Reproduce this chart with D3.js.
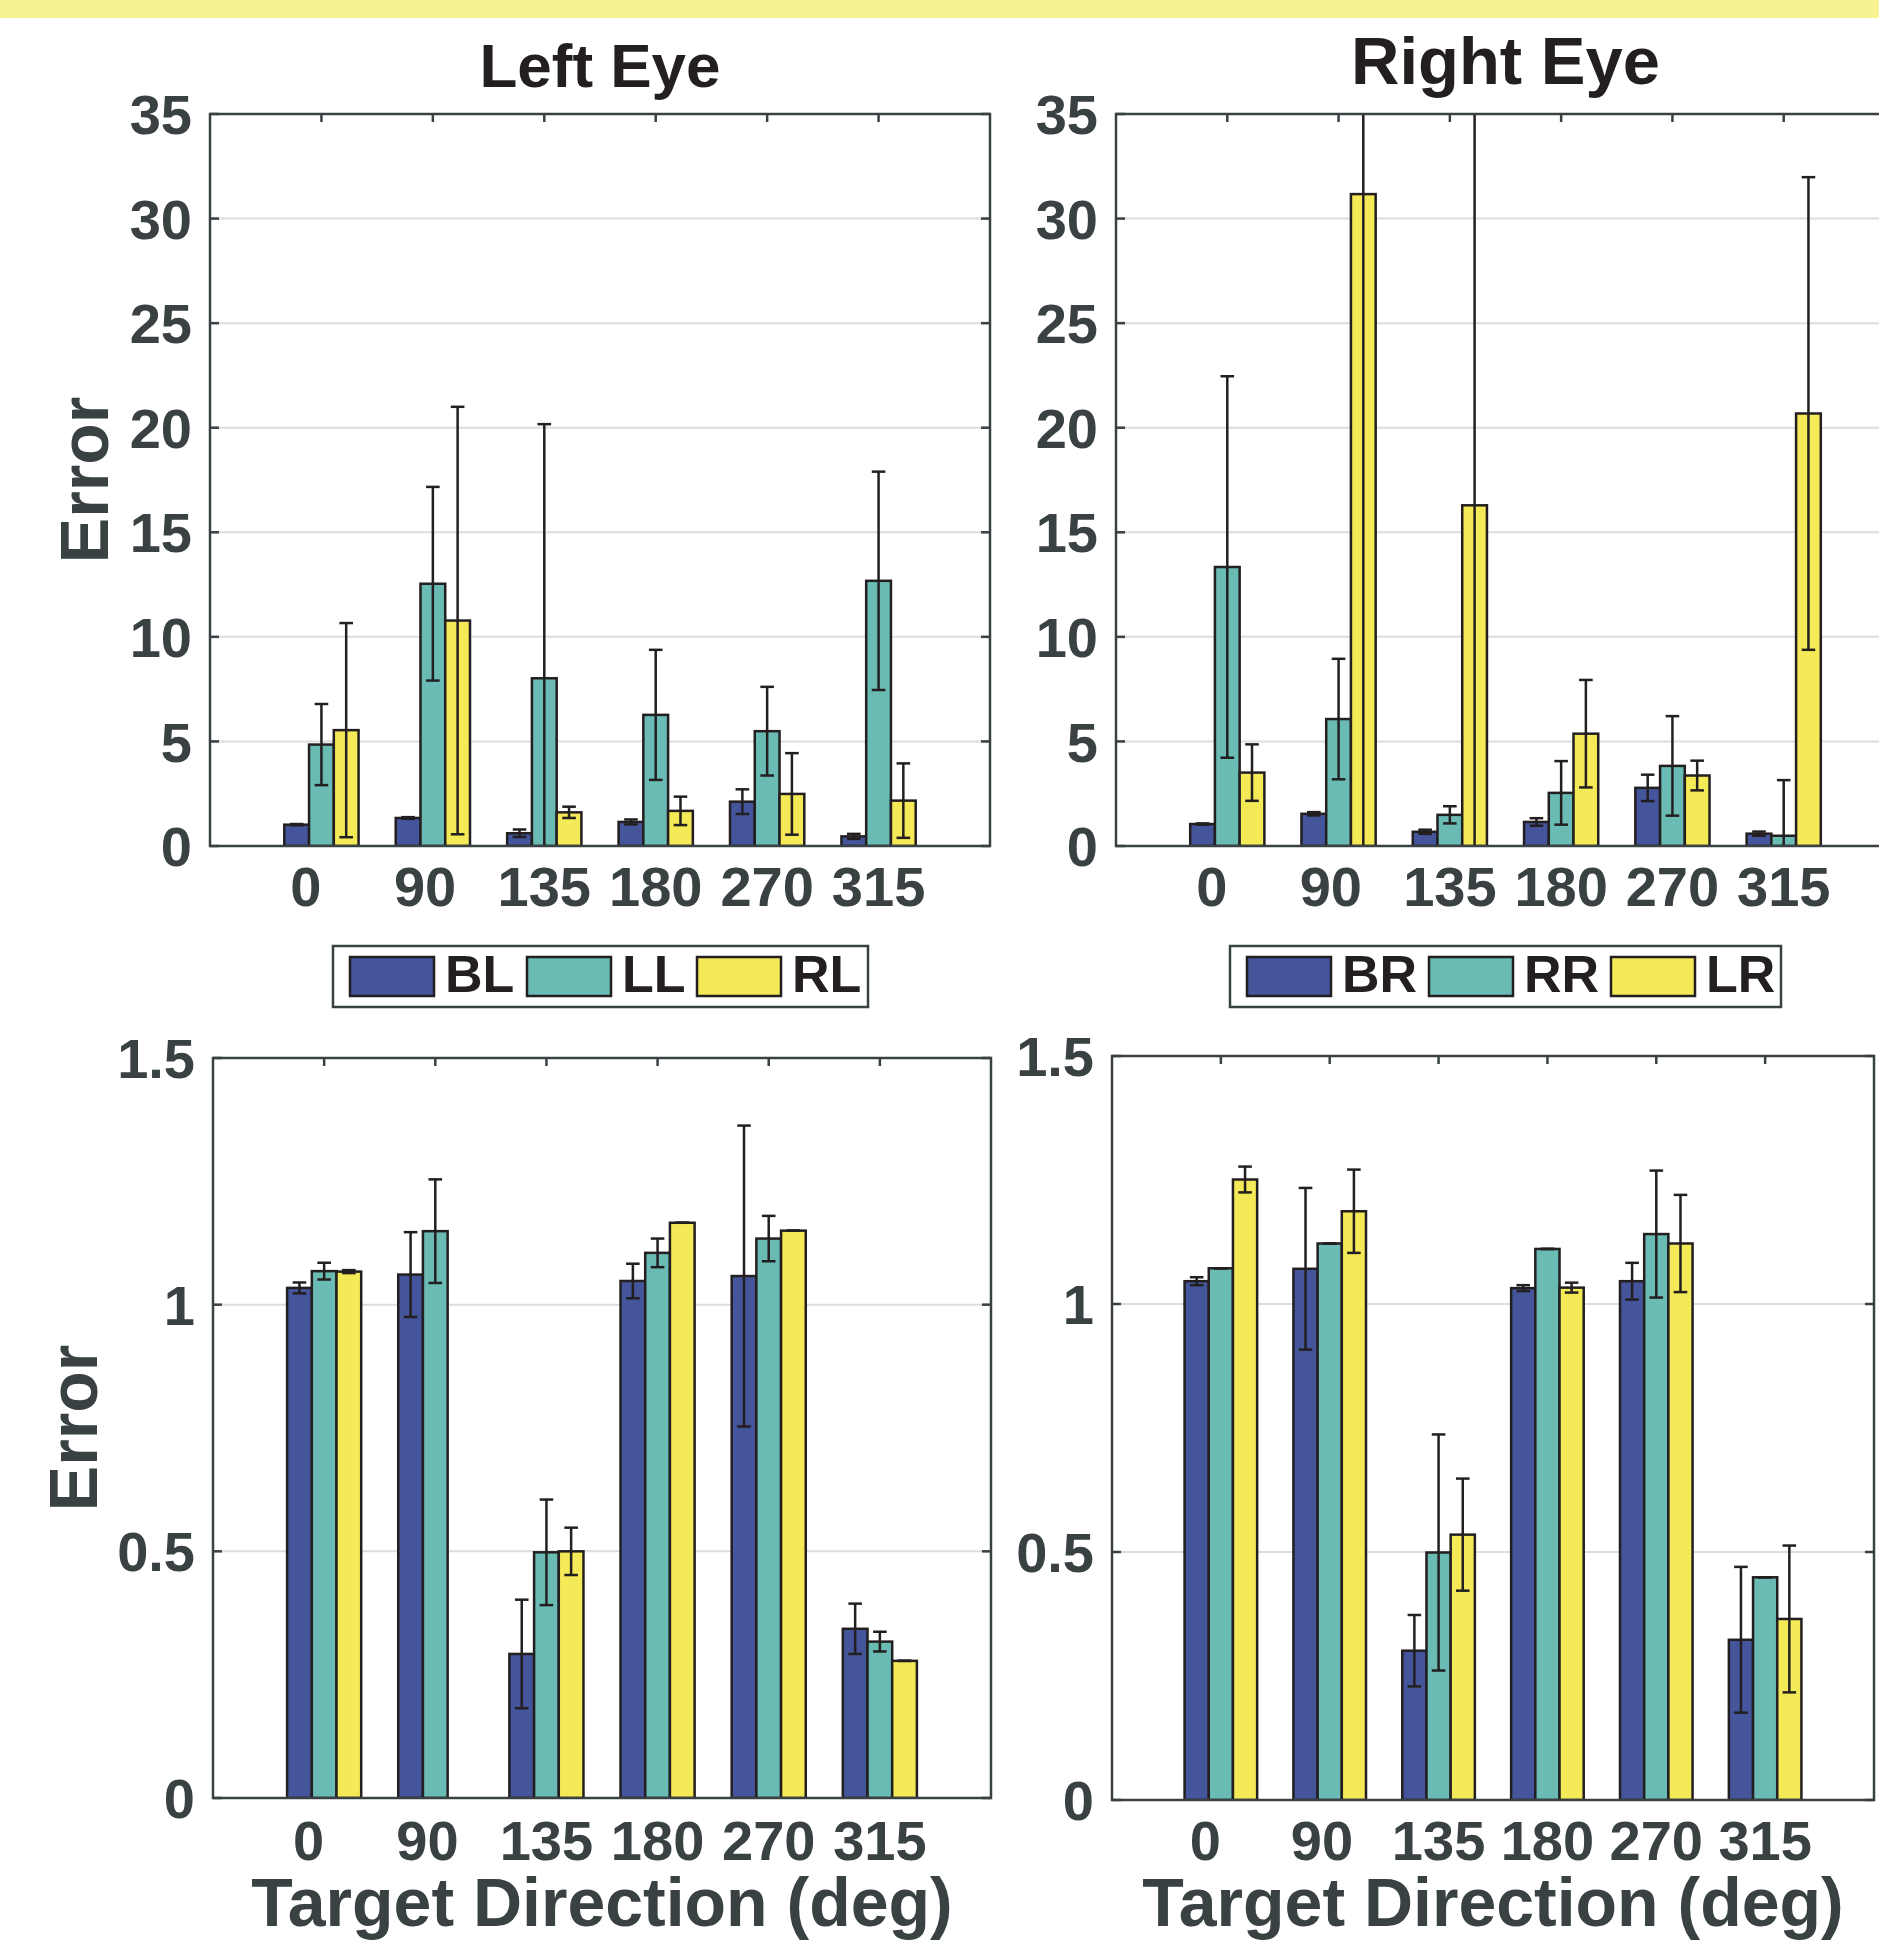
<!DOCTYPE html>
<html>
<head>
<meta charset="utf-8">
<script src="https://cdn.jsdelivr.net/npm/d3@7"></script>
<style>
  html, body { margin: 0; padding: 0; background: #ffffff; }
  svg { display: block; }
  text { font-family: "Liberation Sans", Arial, Helvetica, sans-serif; font-weight: bold; white-space: pre; }
</style>
</head>
<body>
<script>
// ---------------- DATA ----------------
const categories = ["0", "90", "135", "180", "270", "315"];
const seriesLeft = ["BL", "LL", "RL"];
const seriesRight = ["BR", "RR", "LR"];
const titles = ["Left Eye", "Right Eye"];
const xLabel = "Target Direction (deg)";
const yLabel = "Error";
const topTicks = [0, 5, 10, 15, 20, 25, 30, 35];
const bottomTicks = [0, 0.5, 1, 1.5];
const bottomTickLabels = ["0", "0.5", "1", "1.5"];

// Top-left (Left Eye, large scale)
const tlBL = [1.02, 1.34, 0.61, 1.15, 2.12, 0.46];
const tlBLErr = [0.03, 0.04, 0.18, 0.12, 0.59, 0.12];
const tlLL = [4.85, 12.54, 8.02, 6.27, 5.49, 12.68];
const tlLLErr = [1.94, 4.63, 12.15, 3.11, 2.12, 5.22];
const tlRL = [5.54, 10.78, 1.61, 1.68, 2.49, 2.17];
const tlRLErr = [5.12, 10.22, 0.27, 0.68, 1.95, 1.78];

// Top-right (Right Eye, large scale)
const trBR = [1.05, 1.54, 0.68, 1.15, 2.78, 0.59];
const trBRErr = [0.03, 0.08, 0.10, 0.18, 0.63, 0.10];
const trRR = [13.34, 6.07, 1.49, 2.54, 3.83, 0.49];
const trRRErr = [9.12, 2.88, 0.41, 1.52, 2.38, 2.66];
const trLR = [3.51, 31.17, 16.29, 5.37, 3.37, 20.68];
const trLRErr = [1.35, 32.0, 22.0, 2.57, 0.71, 11.3];

// Bottom-left (Left Eye, small scale)
const blBL = [1.034, 1.061, 0.292, 1.048, 1.058, 0.343];
const blBLErr = [0.011, 0.086, 0.110, 0.035, 0.305, 0.051];
const blLL = [1.068, 1.149, 0.498, 1.105, 1.134, 0.317];
const blLLErr = [0.017, 0.105, 0.107, 0.029, 0.046, 0.020];
const blRL = [1.067, null, 0.500, 1.166, 1.150, 0.278];
const blRLErr = [0.003, null, 0.048, 0, 0, 0];

// Bottom-right (Right Eye, small scale)
const brBR = [1.046, 1.071, 0.301, 1.032, 1.046, 0.323];
const brBRErr = [0.008, 0.163, 0.072, 0.006, 0.037, 0.147];
const brRR = [1.072, 1.122, 0.499, 1.111, 1.141, 0.449];
const brRRErr = [0, 0, 0.238, 0, 0.128, 0];
const brLR = [1.251, 1.187, 0.535, 1.033, 1.122, 0.365];
const brLRErr = [0.026, 0.084, 0.113, 0.010, 0.098, 0.148];

// ---------------- STYLE ----------------
const W = 1879, H = 1943;
const colors = ["#44559b", "#69bbb3", "#f4e956"];
const axisColor = "#394143";
const labelColor = "#394143";
const inkColor = "#231f20";
const gridColor = "#dcdce2";

const svg = d3.select("body").append("svg").attr("width", W).attr("height", H);
svg.append("rect").attr("x", 0).attr("y", 0).attr("width", W).attr("height", 18).attr("fill", "#f8f392");

const panels = [
  { x0: 210, x1: 990, y0: 114, y1: 846, domain: [0, 35], ticks: topTicks, tickLabels: topTicks.map(String),
    series: [[tlBL, tlBLErr], [tlLL, tlLLErr], [tlRL, tlRLErr]], title: titles[0], titleSize: 62, titleY: 87,
    ylab: true, xlab: false, labY: 906 },
  { x0: 1116, x1: 1895, y0: 114, y1: 846, domain: [0, 35], ticks: topTicks, tickLabels: topTicks.map(String),
    series: [[trBR, trBRErr], [trRR, trRRErr], [trLR, trLRErr]], title: titles[1], titleSize: 67, titleY: 84,
    ylab: false, xlab: false, labY: 906 },
  { x0: 213, x1: 991, y0: 1058, y1: 1798, domain: [0, 1.5], ticks: bottomTicks, tickLabels: bottomTickLabels,
    series: [[blBL, blBLErr], [blLL, blLLErr], [blRL, blRLErr]], title: null, ylab: true, xlab: true, labY: 1860 },
  { x0: 1112, x1: 1874, y0: 1056, y1: 1800, domain: [0, 1.5], ticks: bottomTicks, tickLabels: bottomTickLabels,
    series: [[brBR, brBRErr], [brRR, brRRErr], [brLR, brLRErr]], title: null, ylab: false, xlab: true, labY: 1860 }
];

const barW = 2 / 9; // MATLAB grouped bar: group width 2/3 split in 3
const labelWidth = d3.max(categories, c => c.length);

panels.forEach((p, pi) => {
  const x = d3.scaleLinear().domain([0, 7]).range([p.x0, p.x1]);
  const y = d3.scaleLinear().domain(p.domain).range([p.y1, p.y0]);
  const g = svg.append("g");
  const clipId = "clip" + pi;
  svg.append("defs").append("clipPath").attr("id", clipId)
    .append("rect").attr("x", p.x0).attr("y", p.y0).attr("width", p.x1 - p.x0).attr("height", p.y1 - p.y0);

  // grid
  g.selectAll(".grid").data(p.ticks.filter(t => t > p.domain[0] && t < p.domain[1])).enter()
    .append("line").attr("x1", p.x0).attr("x2", p.x1).attr("y1", d => y(d)).attr("y2", d => y(d))
    .attr("stroke", gridColor).attr("stroke-width", 2);

  const plot = g.append("g").attr("clip-path", `url(#${clipId})`);
  // bars
  p.series.forEach(([vals, errs], j) => {
    const off = (j - 1) * barW;
    vals.forEach((v, i) => {
      if (v === null) return;
      plot.append("rect")
        .attr("x", x(i + 1 + off - barW / 2)).attr("width", x(barW) - x(0))
        .attr("y", y(v)).attr("height", y(0) - y(v))
        .attr("fill", colors[j]).attr("stroke", inkColor).attr("stroke-width", 2.5);
    });
  });
  // error bars
  p.series.forEach(([vals, errs], j) => {
    const off = (j - 1) * barW;
    vals.forEach((v, i) => {
      if (v === null || errs[i] === null) return;
      const cx = x(i + 1 + off);
      const lo = y(v - errs[i]), hi = y(v + errs[i]);
      const cap = 6.8;
      plot.append("line").attr("x1", cx).attr("x2", cx).attr("y1", lo).attr("y2", hi)
        .attr("stroke", inkColor).attr("stroke-width", 2.5);
      [lo, hi].forEach(yy => plot.append("line").attr("x1", cx - cap).attr("x2", cx + cap)
        .attr("y1", yy).attr("y2", yy).attr("stroke", inkColor).attr("stroke-width", 2.5));
    });
  });

  // box
  g.append("rect").attr("x", p.x0).attr("y", p.y0).attr("width", p.x1 - p.x0).attr("height", p.y1 - p.y0)
    .attr("fill", "none").attr("stroke", axisColor).attr("stroke-width", 2.5);
  // y ticks (inside, both sides)
  p.ticks.forEach(t => {
    g.append("line").attr("x1", p.x0).attr("x2", p.x0 + 9).attr("y1", y(t)).attr("y2", y(t))
      .attr("stroke", axisColor).attr("stroke-width", 2.5);
    g.append("line").attr("x1", p.x1).attr("x2", p.x1 - 9).attr("y1", y(t)).attr("y2", y(t))
      .attr("stroke", axisColor).attr("stroke-width", 2.5);
  });
  // x ticks on top
  categories.forEach((c, i) => {
    g.append("line").attr("x1", x(i + 1)).attr("x2", x(i + 1)).attr("y1", p.y0).attr("y2", p.y0 + 8)
      .attr("stroke", axisColor).attr("stroke-width", 2.5);
  });
  // y tick labels
  g.selectAll(".yl").data(p.ticks).enter().append("text")
    .attr("x", p.x0 - 18).attr("y", d => y(d)).attr("dy", "0.36em")
    .attr("text-anchor", "end").attr("font-size", 56).attr("fill", labelColor)
    .text((d, i) => p.tickLabels[i]);
  // x tick labels (MATLAB pads labels to equal character width, then centres them)
  g.selectAll(".xl").data(categories).enter().append("text")
    .attr("x", (d, i) => x(i + 1)).attr("y", p.labY)
    .attr("text-anchor", "middle").attr("font-size", 56).attr("fill", labelColor)
    .text(d => d.padEnd(labelWidth, "\u00a0"));

  const cxMid = (p.x0 + p.x1) / 2;
  if (p.title) {
    g.append("text").attr("x", cxMid).attr("y", p.titleY).attr("text-anchor", "middle")
      .attr("font-size", p.titleSize).attr("fill", inkColor).text(p.title);
  }
  if (p.xlab) {
    g.append("text").attr("x", cxMid).attr("y", 1926).attr("text-anchor", "middle")
      .attr("font-size", 68).attr("fill", labelColor).text(xLabel);
  }
  if (p.ylab) {
    const cyMid = (p.y0 + p.y1) / 2;
    const bx = pi === 0 ? 108 : 97;
    g.append("text").attr("transform", `translate(${bx},${cyMid}) rotate(-90)`)
      .attr("text-anchor", "middle").attr("font-size", 68).attr("fill", labelColor).text(yLabel);
  }
});

// ---------------- LEGENDS ----------------
const legends = [
  { x0: 333, x1: 868, names: seriesLeft, sw: [350, 527, 697] },
  { x0: 1230, x1: 1781, names: seriesRight, sw: [1247, 1429, 1611] }
];
legends.forEach(L => {
  const lg = svg.append("g");
  lg.append("rect").attr("x", L.x0).attr("y", 946).attr("width", L.x1 - L.x0).attr("height", 61)
    .attr("fill", "#ffffff").attr("stroke", axisColor).attr("stroke-width", 2.5);
  L.names.forEach((n, j) => {
    lg.append("rect").attr("x", L.sw[j]).attr("y", 957).attr("width", 84).attr("height", 39)
      .attr("fill", colors[j]).attr("stroke", inkColor).attr("stroke-width", 2.5);
    lg.append("text").attr("x", L.sw[j] + 95).attr("y", 992).attr("font-size", 52)
      .attr("fill", inkColor).text(n);
  });
});
</script>
</body>
</html>
